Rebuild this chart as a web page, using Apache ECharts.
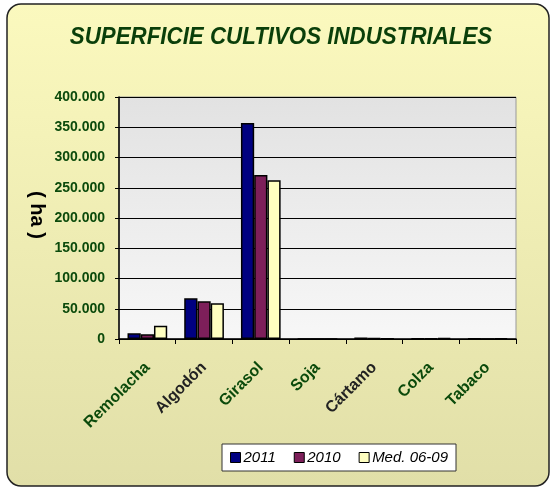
<!DOCTYPE html>
<html>
<head>
<meta charset="utf-8">
<script src="https://cdn.jsdelivr.net/npm/echarts@6/dist/echarts.min.js"></script>
<style>
  html, body { margin: 0; padding: 0; background: #fff; }
  #chart { width: 556px; height: 490px; }
</style>
</head>
<body>
<div id="chart"></div>
<script>
// datos
const cultivos = ['Remolacha', 'Algodón', 'Girasol', 'Soja', 'Cártamo', 'Colza', 'Tabaco'];
const serie2011 = [9400, 67300, 357000, 0, 2500, 1000, 500];
const serie2010 = [7800, 62300, 271000, 0, 1500, 800, 300];
const serieMed = [22000, 59000, 262500, 0, 500, 1500, 1000];
const yTicks = [0, 50000, 100000, 150000, 200000, 250000, 300000, 350000, 400000];

const verde = '#0b4a0b';
const fuente = '"Liberation Sans", Arial, sans-serif';

function fmtMiles(v) {
    return String(v).replace(/\B(?=(\d{3})+(?!\d))/g, '.');
}

const chart = echarts.init(document.getElementById('chart'));

function barra(name, data, color) {
    return {
        name: name,
        type: 'bar',
        data: data,
        barGap: '0%',
        barCategoryGap: '30%',
        itemStyle: { color: color, borderColor: '#000', borderWidth: 1.5 }
    };
}

const option = {
    animation: false,
    graphic: [
        {
            type: 'rect',
            z: -10,
            shape: { x: 7, y: 4, width: 542, height: 482, r: 14 },
            style: {
                fill: new echarts.graphic.LinearGradient(0, 0, 0, 1, [
                    { offset: 0, color: '#fbf9be' },
                    { offset: 1, color: '#e1dfa8' }
                ]),
                stroke: '#222',
                lineWidth: 1.5
            }
        },
        {
            type: 'text',
            x: 281,
            y: 37,
            scaleX: 0.93,
            style: {
                text: 'SUPERFICIE CULTIVOS INDUSTRIALES',
                fill: '#0a3f0a',
                font: 'italic bold 24px ' + fuente,
                align: 'center',
                verticalAlign: 'middle'
            }
        },
        {
            type: 'text',
            x: 37,
            y: 215,
            rotation: -Math.PI / 2,
            style: {
                text: '( ha )',
                fill: '#000',
                font: 'bold 20px ' + fuente,
                align: 'center',
                verticalAlign: 'middle'
            }
        }
    ],
    grid: {
        left: 119,
        right: 40,
        top: 97,
        bottom: 151,
        show: true,
        borderColor: '#999',
        borderWidth: 1,
        backgroundColor: new echarts.graphic.LinearGradient(0, 0, 0, 1, [
            { offset: 0, color: '#e2e2e2' },
            { offset: 1, color: '#f7f7f7' }
        ])
    },
    legend: {
        data: ['2011', '2010', 'Med. 06-09'],
        left: 222,
        top: 444,
        itemWidth: 10,
        itemHeight: 10,
        itemGap: 18,
        padding: [6, 8, 6, 8],
        backgroundColor: '#fff',
        borderColor: '#333',
        borderWidth: 1,
        borderRadius: 0,
        icon: 'rect',
        itemStyle: { borderColor: '#000', borderWidth: 1 },
        textStyle: {
            fontStyle: 'italic',
            fontSize: 15,
            color: '#000',
            fontFamily: fuente,
            padding: [0, 0, 0, -2]
        }
    },
    xAxis: {
        type: 'category',
        data: cultivos,
        axisLine: { lineStyle: { color: '#000', width: 1.5 } },
        axisTick: { show: true, length: 5, lineStyle: { color: '#000' } },
        axisLabel: {
            rotate: 45,
            interval: 0,
            margin: 26,
            fontWeight: 'bold',
            fontSize: 16,
            fontFamily: fuente,
            color: function (v) {
                return (v === 'Algodón' || v === 'Cártamo') ? '#222' : verde;
            }
        }
    },
    yAxis: {
        type: 'value',
        min: 0,
        max: 400000,
        interval: 50000,
        axisLine: { show: true, lineStyle: { color: '#000', width: 1.5 } },
        axisTick: { show: true, length: 4, lineStyle: { color: '#000' } },
        splitLine: { lineStyle: { color: '#000', width: 1 } },
        axisLabel: {
            margin: 14,
            fontWeight: 'bold',
            fontSize: 14,
            color: verde,
            fontFamily: fuente,
            formatter: function (v) {
                return yTicks.indexOf(v) >= 0 ? fmtMiles(v) : '';
            }
        }
    },
    series: [
        barra('2011', serie2011, '#000080'),
        barra('2010', serie2010, '#7d1f5a'),
        barra('Med. 06-09', serieMed, '#ffffc0')
    ]
};

chart.setOption(option);
</script>
</body>
</html>
